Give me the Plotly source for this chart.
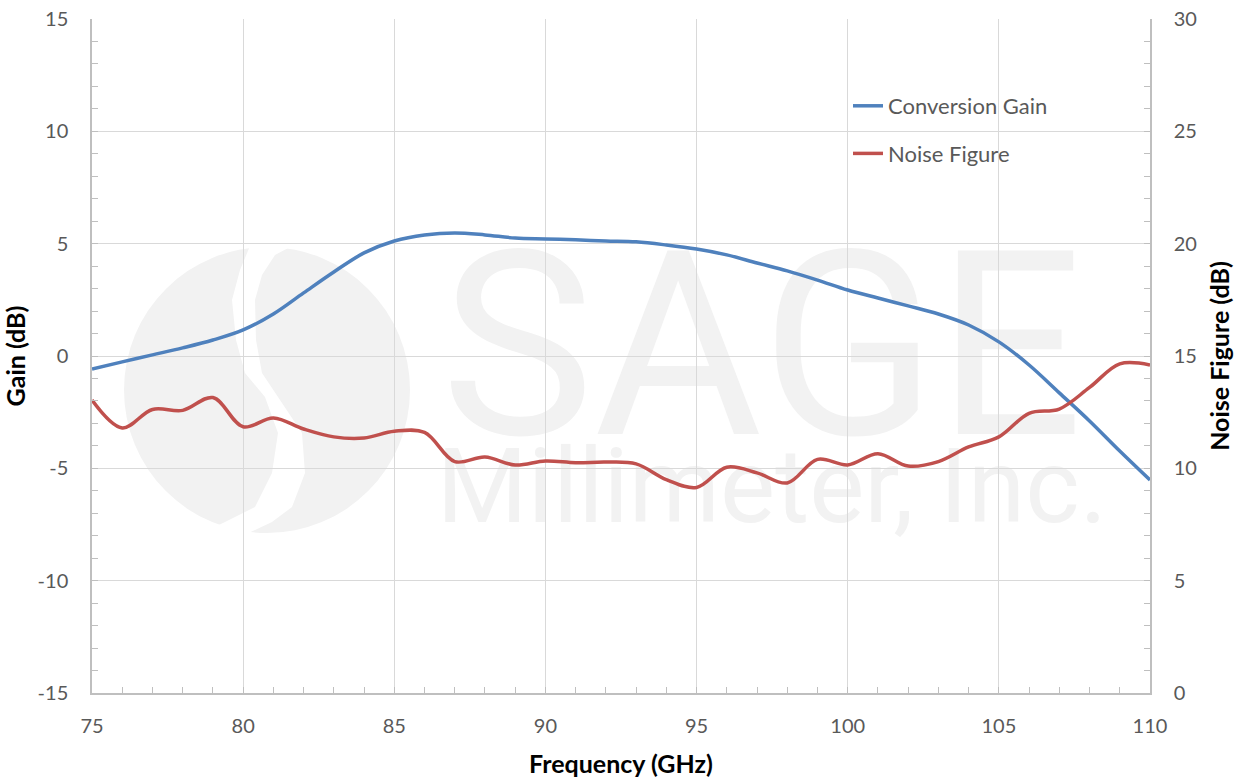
import plotly.graph_objects as go

# ---- data ----
freq_ghz = list(range(75, 111))
conversion_gain_db = [-0.58, -0.26, 0.05, 0.36, 0.71, 1.16, 1.87, 2.81, 3.74, 4.59,
                      5.12, 5.39, 5.48, 5.39, 5.25, 5.21, 5.17, 5.12, 5.08, 4.94,
                      4.76, 4.50, 4.14, 3.79, 3.38, 2.94, 2.58, 2.23, 1.87, 1.38,
                      0.63, -0.40, -1.64, -2.89, -4.23, -5.52]
noise_figure_db = [13.04, 11.80, 12.62, 12.58, 13.15, 11.85, 12.24, 11.75, 11.40, 11.35,
                   11.65, 11.60, 10.30, 10.50, 10.15, 10.33, 10.25, 10.28, 10.20, 9.50,
                   9.15, 10.05, 9.80, 9.35, 10.40, 10.15, 10.65, 10.10, 10.30, 10.95,
                   11.40, 12.45, 12.64, 13.60, 14.65, 14.60]

x_ticks = [75, 80, 85, 90, 95, 100, 105, 110]
gain_ticks = [-15, -10, -5, 0, 5, 10, 15]
gain_tick_text = ["-15", "-10", "-5", "0", "5", "10", "15"]
nf_ticks = [0, 5, 10, 15, 20, 25, 30]

BLUE = "#4F81BD"
RED = "#C0504D"
GRID = "#d9d9d9"
AXIS = "#bfbfbf"
WM = "#f2f2f2"
FONT = "Lato"

fig = go.Figure()
fig.add_trace(go.Scatter(x=freq_ghz, y=conversion_gain_db, mode="lines",
                         name="Conversion Gain", legendgroup="g1",
                         line=dict(color=BLUE, width=3.5, shape="spline", smoothing=1.0)))
fig.add_trace(go.Scatter(x=freq_ghz, y=noise_figure_db, mode="lines",
                         name="Noise Figure", legendgroup="g2", yaxis="y2",
                         line=dict(color=RED, width=3.5, shape="spline", smoothing=1.0)))

# ---- watermark (logo + text), drawn below the grid ----
# screen-pixel helpers (plot area is 92..1150 x 19..693)
def px2paper_x(px):
    return (px - 92) / 1058.0

def px2paper_y(py):
    return (693 - py) / 674.0

shapes = []
def circle(cx, cy, r, color):
    shapes.append(dict(type="circle", xref="paper", yref="paper", layer="below",
                       x0=px2paper_x(cx - r), x1=px2paper_x(cx + r),
                       y0=px2paper_y(cy + r), y1=px2paper_y(cy - r),
                       fillcolor=color, line=dict(width=0)))

def poly(points, color):
    d = "M " + " L ".join(f"{px2paper_x(x):.5f},{px2paper_y(y):.5f}" for x, y in points) + " Z"
    shapes.append(dict(type="path", xref="paper", yref="paper", layer="below",
                       path=d, fillcolor=color, line=dict(width=0)))

circle(267, 390, 143, WM)
band_left = [(250, 246), (240, 270), (232, 300), (236, 340), (245, 373), (265, 397),
             (278, 433), (272, 473), (255, 507), (225, 522), (200, 534)]
band_right = [(240, 537), (272, 522), (292, 507), (305, 473), (302, 433), (278, 397),
              (262, 373), (256, 340), (255, 300), (262, 275), (275, 255), (292, 246)]
poly(band_left + band_right, "white")

def wm_text(text, cx, cy, size):
    shapes.append(dict(type="rect", xref="paper", yref="paper", layer="below",
                       x0=px2paper_x(cx - 400), x1=px2paper_x(cx + 400),
                       y0=px2paper_y(cy + 120), y1=px2paper_y(cy - 120),
                       line=dict(width=0), fillcolor="rgba(0,0,0,0)",
                       label=dict(text=text, textposition="middle center",
                                  font=dict(family="Roboto", size=size, color=WM))))

wm_text("SAGE", 762, 327, 258)
wm_text("Millimeter, Inc.", 772, 478, 104)

fig.update_layout(
    width=1246, height=778,
    margin=dict(l=92, r=96, t=19, b=85, autoexpand=False),
    paper_bgcolor="white", plot_bgcolor="white",
    font=dict(family=FONT, size=20, color="#595959"),
    shapes=shapes,
    showlegend=True,
    legend=dict(x=px2paper_x(848), y=px2paper_y(85), xanchor="left", yanchor="top",
                bgcolor="rgba(0,0,0,0)", font=dict(family=FONT, size=22, color="#595959"),
                tracegroupgap=16, itemwidth=30),
    xaxis=dict(range=[75, 110], tickvals=x_ticks, showgrid=True, gridcolor=GRID, gridwidth=1,
               showline=True, linecolor=AXIS, linewidth=1.5, zeroline=False, automargin=False,
               ticks="inside", ticklen=6, tickcolor=AXIS, ticklabeloverflow="allow",
               minor=dict(dtick=1, ticks="inside", ticklen=6, tickcolor=AXIS, showgrid=False),
               ticklabelstandoff=14,
               title=dict(text="<b>Frequency (GHz)</b>", standoff=20,
                          font=dict(family=FONT, size=25, color="black"))),
    yaxis=dict(range=[-15, 15], tickvals=gain_ticks, ticktext=gain_tick_text,
               showgrid=True, gridcolor=GRID, gridwidth=1, zeroline=False, automargin=False,
               showline=True, linecolor=AXIS, linewidth=1.5, ticklabeloverflow="allow",
               ticks="inside", ticklen=6, tickcolor=AXIS,
               minor=dict(dtick=1, ticks="inside", ticklen=6, tickcolor=AXIS, showgrid=False),
               ticklabelstandoff=18,
               title=dict(text="<b>Gain (dB)</b>", standoff=10,
                          font=dict(family=FONT, size=25, color="black"))),
    yaxis2=dict(range=[0, 30], tickvals=nf_ticks, overlaying="y", side="right",
                showgrid=False, zeroline=False, automargin=False, ticklabeloverflow="allow",
                showline=True, linecolor=AXIS, linewidth=1.5,
                ticks="inside", ticklen=6, tickcolor=AXIS,
                minor=dict(dtick=1, ticks="inside", ticklen=6, tickcolor=AXIS, showgrid=False),
                ticklabelstandoff=18,
                title=dict(text="<b>Noise Figure (dB)</b>", standoff=16,
                           font=dict(family=FONT, size=25, color="black"))),
)

fig.write_html("out.html", config={"displayModeBar": False},
               post_script="document.body.style.margin='0';document.body.style.overflow='hidden';")
